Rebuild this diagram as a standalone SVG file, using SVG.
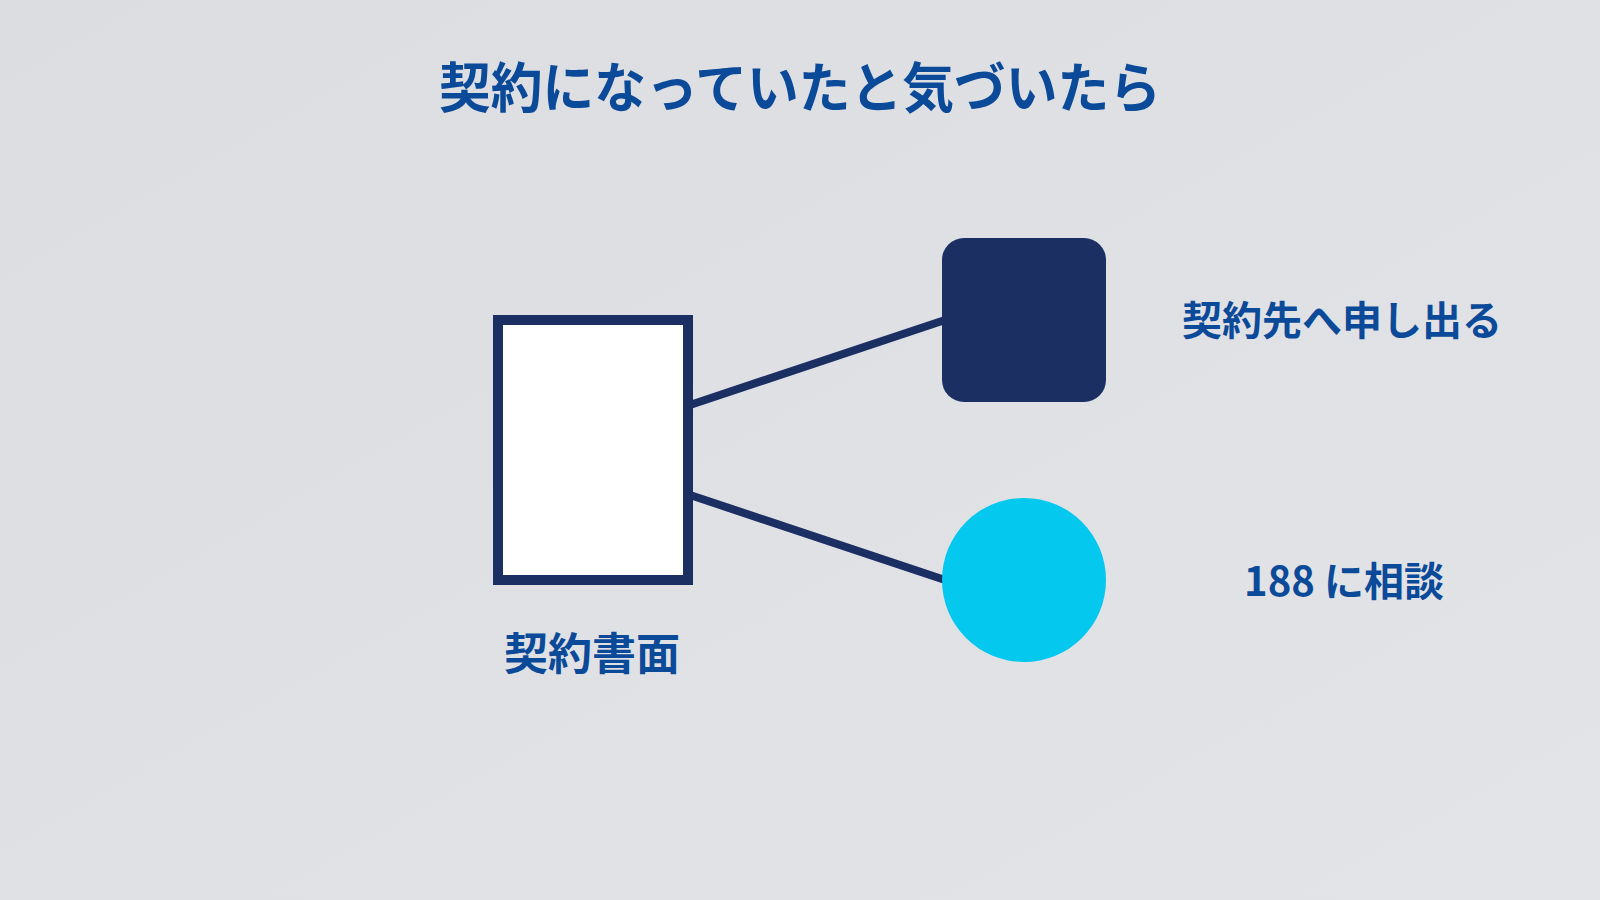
<svg xmlns="http://www.w3.org/2000/svg" width="1600" height="900" viewBox="0 0 1600 900">
  <defs>
    <linearGradient id="bg" x1="0" y1="0" x2="1" y2="1">
      <stop offset="0" stop-color="#dcdde1"/>
      <stop offset="1" stop-color="#e3e4e8"/>
    </linearGradient>
  </defs>
  <style>
    .t { font-family: "Noto Sans CJK JP", "Noto Sans", sans-serif; font-weight: 700; fill: #0b4a99; text-anchor: middle; }
    .conn { stroke: #1b2f63; stroke-width: 8; fill: none; }
  </style>
  <rect width="1600" height="900" fill="url(#bg)"/>
  <text class="t" x="800" y="108" font-size="54" textLength="722" lengthAdjust="spacingAndGlyphs">契約になっていたと気づいたら</text>
  <g id="connectors">
    <line class="conn" x1="690" y1="405" x2="945" y2="320"/>
    <line class="conn" x1="690" y1="495" x2="945" y2="580"/>
  </g>
  <g id="document">
    <rect x="498" y="320" width="190" height="260" fill="#ffffff" stroke="#1b2f63" stroke-width="10"/>
    <text class="t" x="592" y="670" font-size="44">契約書面</text>
  </g>
  <g id="contact">
    <rect x="942" y="238" width="164" height="164" rx="22" fill="#1b2f63"/>
    <text class="t" x="1342" y="335" font-size="40">契約先へ申し出る</text>
  </g>
  <g id="consult">
    <circle cx="1024" cy="580" r="82" fill="#05c8ef"/>
    <text class="t" x="1344" y="596" font-size="40">188 に相談</text>
  </g>
</svg>
